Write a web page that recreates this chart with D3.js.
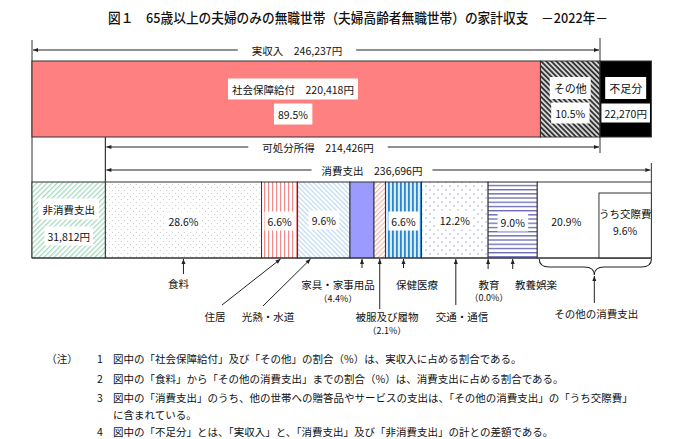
<!DOCTYPE html>
<html><head><meta charset="utf-8">
<script src="https://cdn.jsdelivr.net/npm/d3@7"></script>
<style>
body{margin:0;background:#fff;}
text{font-family:"Noto Sans CJK JP","Noto Sans",sans-serif;fill:#111;}
</style></head>
<body><svg id="c" width="700" height="439"></svg>
<script>
// ---- data ----
const title = "図１　65歳以上の夫婦のみの無職世帯（夫婦高齢者無職世帯）の家計収支　－2022年－";
const incomeTotal = 246237;
const incomeCats = ["社会保障給付", "その他"];
const incomeValues = [220418, 25819];
const incomeShares = [89.5, 10.5];
const deficit = 22270;
const disposable = 214426;
const nonConsumption = 31812;
const consumption = 236696;
const consCats = ["食料","住居","光熱・水道","家具・家事用品","被服及び履物","保健医療","交通・通信","教育","教養娯楽","その他の消費支出"];
const consShares = [28.6, 6.6, 9.6, 4.4, 2.1, 6.6, 12.2, 0.0, 9.0, 20.9];
const socialShare = 9.6; // うち交際費
const notes = [
  ["1","図中の「社会保障給付」及び「その他」の割合（%）は、実収入に占める割合である。"],
  ["2","図中の「食料」から「その他の消費支出」までの割合（%）は、消費支出に占める割合である。"],
  ["3","図中の「消費支出」のうち、他の世帯への贈答品やサービスの支出は、「その他の消費支出」の「うち交際費」"],
  ["","に含まれている。"],
  ["4","図中の「不足分」とは、「実収入」と、「消費支出」及び「非消費支出」の計との差額である。"]
];

const fmt = d3.format(",");
const svg = d3.select("#c");
const x = d3.scaleLinear().domain([0, incomeTotal]).range([32, 600]);

// ---- patterns ----
const defs = svg.append("defs");
function stripe(id, color, w, size, angle, bg){
  const p = defs.append("pattern").attr("id", id).attr("patternUnits","userSpaceOnUse")
    .attr("width", size).attr("height", size).attr("patternTransform", `rotate(${angle})`);
  p.append("rect").attr("width", size).attr("height", size).attr("fill", bg || "#fff");
  p.append("rect").attr("x",0).attr("y",0).attr("width", w).attr("height", size).attr("fill", color);
}
stripe("pOther", "#333", 1.8, 3.6, -45, "#d4d4d4");
stripe("pNon", "#a6dcc0", 1.3, 3.6, 45);
stripe("pHousing", "#f08c8c", 1.2, 4, 0);
stripe("pUtil", "#bcd8f2", 1.2, 3.4, -45);
stripe("pCloth", "#f6b8ae", 1.2, 3.4, 45);
stripe("pMed", "#2f86cc", 1.8, 4, 0, "#d6ecfa");
stripe("pEdu", "#6565b5", 1.3, 4.2, 90);
(function(){
  const p = defs.append("pattern").attr("id","pFood").attr("patternUnits","userSpaceOnUse").attr("width",6).attr("height",6);
  p.append("rect").attr("width",6).attr("height",6).attr("fill","#fff");
  p.append("circle").attr("cx",1.5).attr("cy",1.5).attr("r",0.6).attr("fill","#c8c8c8");
  p.append("circle").attr("cx",4.5).attr("cy",4.5).attr("r",0.6).attr("fill","#c8c8c8");
  const q = defs.append("pattern").attr("id","pTrans").attr("patternUnits","userSpaceOnUse").attr("width",8).attr("height",8);
  q.append("rect").attr("width",8).attr("height",8).attr("fill","#fff");
  q.append("circle").attr("cx",2).attr("cy",2).attr("r",1).attr("fill","#c4c4ee");
  q.append("circle").attr("cx",6).attr("cy",6).attr("r",1).attr("fill","#c4c4ee");
})();
const consFills = ["url(#pFood)","url(#pHousing)","url(#pUtil)","#9a9aff","url(#pCloth)","url(#pMed)","url(#pTrans)","#fff","url(#pEdu)","#fff"];

// arrow markers
const mk = defs.append("marker").attr("id","ah").attr("viewBox","0 0 10 10").attr("refX",10).attr("refY",5)
  .attr("markerWidth",6).attr("markerHeight",5).attr("orient","auto-start-reverse").attr("markerUnits","userSpaceOnUse");
mk.append("path").attr("d","M0,1 L10,5 L0,9 Z").attr("fill","#222");

// ---- title ----
svg.append("text").attr("x",358).attr("y",23).attr("text-anchor","middle").attr("font-size",13.5)
  .attr("font-weight",500).attr("textLength",500).attr("lengthAdjust","spacingAndGlyphs").text(title);

function boxText(cx, cy, str, size, pad){
  size = size || 10.5; pad = pad === undefined ? 3 : pad;
  const g = svg.append("g");
  const t = g.append("text").attr("x",cx).attr("y",cy).attr("text-anchor","middle")
    .attr("dominant-baseline","central").attr("font-size",size).text(str);
  const bb = t.node().getBBox();
  g.insert("rect","text").attr("x",bb.x-pad).attr("y",bb.y-pad+1).attr("width",bb.width+2*pad).attr("height",bb.height+2*pad-2).attr("fill","#fff");
  return g;
}
function spanArrow(x0, x1, y, label, cx, gap){
  const t = svg.append("text").attr("x",cx).attr("y",y).attr("text-anchor","middle").attr("dominant-baseline","central")
    .attr("font-size",10.5).text(label);
  const bb = t.node().getBBox();
  svg.append("line").attr("x1",bb.x-gap).attr("x2",x0+1).attr("y1",y).attr("y2",y).attr("stroke","#222").attr("stroke-width",1).attr("marker-end","url(#ah)");
  svg.append("line").attr("x1",bb.x+bb.width+gap).attr("x2",x1-1).attr("y1",y).attr("y2",y).attr("stroke","#222").attr("stroke-width",1).attr("marker-end","url(#ah)");
}
const vline = (xx,y0,y1,w)=>svg.append("line").attr("x1",xx).attr("x2",xx).attr("y1",y0).attr("y2",y1).attr("stroke","#333").attr("stroke-width",w||1);

// ---- spans ----
const xInc0 = x(0), xInc1 = x(incomeTotal);
const xDisp0 = x(incomeTotal - disposable);
const xCons0 = x(nonConsumption), xCons1 = x(nonConsumption + consumption);
vline(xInc0, 40, 258);
vline(xInc1, 38, 153);
vline(xDisp0, 136, 182, 1.2);
vline(xCons1, 163, 182);
spanArrow(xInc0, xInc1, 50, "実収入　" + fmt(incomeTotal) + "円", 297, 14);
spanArrow(xDisp0, xInc1, 147, "可処分所得　" + fmt(disposable) + "円", 318, 14);
spanArrow(xDisp0, xCons1, 170, "消費支出　" + fmt(consumption) + "円", 372, 10);

// ---- income bar ----
const y1 = 61, h1 = 76;
const incStarts = [0, incomeValues[0]];
const incFills = ["#ff8080", "url(#pOther)"];
svg.selectAll("rect.inc").data(incomeValues).join("rect").attr("class","inc")
  .attr("x",(d,i)=>x(incStarts[i])).attr("y",y1).attr("width",d=>x(d)-x(0)).attr("height",h1)
  .attr("fill",(d,i)=>incFills[i]).attr("stroke","#333").attr("stroke-width",1);
svg.append("rect").attr("x",x(incomeTotal)).attr("y",y1).attr("width",x(deficit)-x(0)).attr("height",h1)
  .attr("fill","#000").attr("stroke","#333");
boxText(293, 89, incomeCats[0] + "　" + fmt(incomeValues[0]) + "円", 10.5, 4);
boxText(293, 114, incomeShares[0].toFixed(1) + "%", 10.5, 4);
const xo = (x(incomeValues[0]) + x(incomeTotal)) / 2;
boxText(xo, 88, incomeCats[1], 11, 4);
boxText(xo, 113, incomeShares[1].toFixed(1) + "%", 10.5, 4);
const xd = (x(incomeTotal) + x(incomeTotal + deficit)) / 2;
boxText(xd, 88, "不足分", 11, 4);
boxText(xd, 113, fmt(deficit) + "円", 10.5, 3);

// ---- spending bar ----
const y2 = 182, h2 = 76;
svg.append("rect").attr("x",x(0)).attr("y",y2).attr("width",x(nonConsumption)-x(0)).attr("height",h2)
  .attr("fill","url(#pNon)").attr("stroke","#333");
boxText((x(0)+x(nonConsumption))/2, 209, "非消費支出", 10.5, 4);
boxText((x(0)+x(nonConsumption))/2, 236, fmt(nonConsumption) + "円", 10.5, 3);

const cum = [];
consShares.reduce((a,d,i)=>{cum[i]=a; return a+d;}, 0);
const cx = v => x(nonConsumption + consumption * v / 100);
const segs = consShares.map((d,i)=>({cat:consCats[i], v:d, x0:cx(cum[i]), x1:cx(cum[i]+d), fill:consFills[i]}));
svg.selectAll("rect.cons").data(segs.filter(s=>s.v>0)).join("rect").attr("class","cons")
  .attr("x",d=>d.x0).attr("y",y2).attr("width",d=>d.x1-d.x0).attr("height",h2)
  .attr("fill",d=>d.fill).attr("stroke","#333").attr("stroke-width",1);
// うち交際費
const other = segs[9];
svg.append("rect").attr("x",other.x1 - (cx(socialShare)-cx(0))).attr("y",193)
  .attr("width",cx(socialShare)-cx(0)).attr("height",y2+h2-193).attr("fill","#fff").attr("stroke","#333");
const scx = other.x1 - (cx(socialShare)-cx(0))/2;
svg.append("text").attr("x",scx).attr("y",213).attr("text-anchor","middle").attr("dominant-baseline","central").attr("font-size",10.5).text("うち交際費");
svg.append("text").attr("x",scx).attr("y",230).attr("text-anchor","middle").attr("dominant-baseline","central").attr("font-size",10.5).text(socialShare.toFixed(1)+"%");

// in-bar percentage labels
const inLabel = {0:{y:221},1:{y:221},2:{y:220},5:{y:221},6:{y:220},8:{y:222},9:{y:221,dx:-28}};
Object.keys(inLabel).forEach(k=>{
  const s = segs[k], o = inLabel[k];
  boxText((s.x0+s.x1)/2 + (o.dx||0), o.y, s.v.toFixed(1)+"%", 10.5, 3);
});

// bottom baseline of spending bar
svg.append("line").attr("x1",x(0)).attr("x2",xCons1).attr("y1",y2+h2).attr("y2",y2+h2).attr("stroke","#333");

// ---- labels below ----
const yb = y2 + h2 + 1;
const below = [
  {i:0, ax:null, ly:283, lx:null, tail:[null,274]},
  {i:1, lx:215, ly:316, tail:[222,305], tip:null},
  {i:2, lx:268, ly:316, tail:[263,306], tip:null},
  {i:3, lx:338, ly:284, tail:[null,268], sub:"（4.4%）", suby:298},
  {i:4, lx:387, ly:316, tail:[null,309], sub:"（2.1%）", suby:330},
  {i:5, lx:417, ly:284, tail:[null,268]},
  {i:6, lx:462, ly:316, tail:[null,305]},
  {i:7, lx:489, ly:284, tail:[null,269], sub:"（0.0%）", suby:297},
  {i:8, lx:536, ly:284, tail:[null,269]}
];
below.forEach(b=>{
  const s = segs[b.i];
  const mid = (s.x0+s.x1)/2;
  const tipX = b.i===1 ? s.x1-17 : (b.i===2 ? s.x0+13 : (b.i===7 ? s.x0 : (b.i===6 ? mid+1 : mid)));
  const tx = b.tail[0]===null ? tipX : b.tail[0];
  svg.append("line").attr("x1",tx).attr("y1",b.tail[1]).attr("x2",tipX).attr("y2",yb).attr("stroke","#222").attr("stroke-width",1).attr("marker-end","url(#ah)");
  svg.append("text").attr("x",b.lx===null?mid-5:b.lx).attr("y",b.ly).attr("text-anchor","middle").attr("dominant-baseline","central").attr("font-size",10.5).text(s.cat);
  if(b.sub) svg.append("text").attr("x",b.lx).attr("y",b.suby).attr("text-anchor","middle").attr("dominant-baseline","central").attr("font-size",9).text(b.sub);
});
// brace for その他の消費支出
const bx0 = other.x0 + 2, bx1 = other.x1, bm = (bx0+bx1)/2 - 1;
svg.append("path").attr("d",`M${bx0},${yb} Q${bx0},${yb+8} ${bx0+10},${yb+8} L${bm-10},${yb+8} Q${bm},${yb+8} ${bm},${yb+16} Q${bm},${yb+8} ${bm+10},${yb+8} L${bx1-10},${yb+8} Q${bx1},${yb+8} ${bx1},${yb}`)
  .attr("fill","none").attr("stroke","#222").attr("stroke-width",1.1);
svg.append("line").attr("x1",bm).attr("y1",303).attr("x2",bm).attr("y2",yb+17).attr("stroke","#222").attr("marker-end","url(#ah)");
svg.append("text").attr("x",bm+2).attr("y",313).attr("text-anchor","middle").attr("dominant-baseline","central").attr("font-size",10.5).text(other.cat);

// ---- notes ----
svg.append("text").attr("x",62).attr("y",358).attr("text-anchor","middle").attr("dominant-baseline","central").attr("font-size",10.5).text("（注）");
const noteY = [358, 378, 397, 414, 431];
notes.forEach((n,i)=>{
  if(n[0]) svg.append("text").attr("x",100).attr("y",noteY[i]).attr("text-anchor","middle").attr("dominant-baseline","central").attr("font-size",10.5).text(n[0]);
  svg.append("text").attr("x",113).attr("y",noteY[i]).attr("dominant-baseline","central").attr("font-size",10.5).text(n[1]);
});
</script></body></html>
